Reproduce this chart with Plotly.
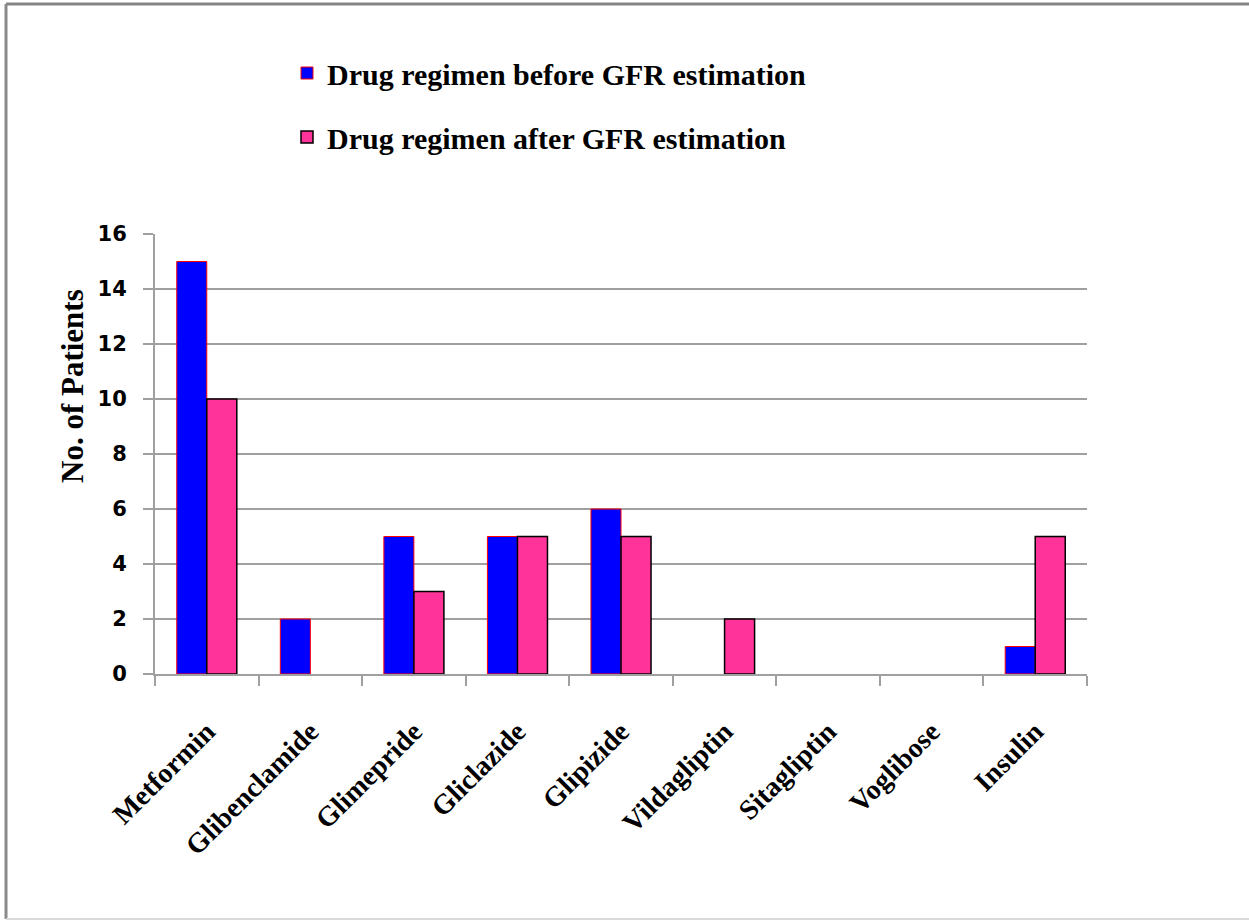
import plotly.graph_objects as go

categories = ["Metformin", "Glibenclamide", "Glimepride", "Gliclazide", "Glipizide",
              "Vildagliptin", "Sitagliptin", "Voglibose", "Insulin"]
before_gfr = [15, 2, 5, 5, 6, 0, 0, 0, 1]
after_gfr = [10, 0, 3, 5, 5, 2, 0, 0, 5]
y_ticks = [0, 2, 4, 6, 8, 10, 12, 14, 16]
y_title = "No. of Patients"

def hide_zero(vals):
    return [v if v != 0 else None for v in vals]

fig = go.Figure()
fig.add_trace(go.Bar(
    x=categories, y=hide_zero(before_gfr), name="Drug regimen before GFR estimation",
    marker=dict(color="#0000FF", line=dict(color="#FF0000", width=1)),
    legend="legend",
))
fig.add_trace(go.Bar(
    x=categories, y=hide_zero(after_gfr), name="Drug regimen after GFR estimation",
    marker=dict(color="#FF3399", line=dict(color="#000000", width=1.5)),
    legend="legend2",
))

L, R, T, B = 155, 162, 234, 246
W, H = 1249, 920
pw, ph = W - L - R, H - T - B

def px(xp):
    return (xp - L) / pw

def py(yp):
    return (H - B - yp) / ph

legend_font = dict(family="Liberation Serif", size=30, color="black", weight="bold")

fig.update_layout(
    width=W, height=H,
    margin=dict(l=L, r=R, t=T, b=B, autoexpand=False),
    paper_bgcolor="white", plot_bgcolor="white",
    barmode="group", bargap=0.42, bargroupgap=0,
    showlegend=True,
    legend=dict(x=px(287), y=py(73), xanchor="left", yanchor="middle",
                font=legend_font, bgcolor="rgba(0,0,0,0)"),
    legend2=dict(x=px(287), y=py(137), xanchor="left", yanchor="middle",
                 font=legend_font, bgcolor="rgba(0,0,0,0)"),
    xaxis=dict(
        type="category", showgrid=False, showline=True, linecolor="#A0A0A0", linewidth=2,
        ticks="outside", tickson="boundaries", ticklen=10, tickcolor="#A0A0A0", tickwidth=2,
        tickangle=-45, tickfont=dict(family="Liberation Serif", size=28, color="black", weight="bold"),
        ticklabelstandoff=28,
    ),
    yaxis=dict(
        range=[0, 16], tickvals=y_ticks, showgrid=True, gridcolor="#A0A0A0", gridwidth=1.5,
        showline=True, linecolor="#A0A0A0", linewidth=2, zeroline=False,
        ticks="outside", ticklen=10, tickcolor="#A0A0A0", tickwidth=2,
        tickfont=dict(family="DejaVu Sans", size=21, color="black", weight="bold"),
        ticklabelstandoff=12,
    ),
)

fig.add_annotation(text="<b>" + y_title + "</b>", xref="paper", yref="paper",
                   x=px(72), y=py(386), xanchor="center", yanchor="middle",
                   textangle=-90, showarrow=False,
                   font=dict(family="Liberation Serif", size=31, color="black"))

# outer chart border (top, left, bottom; right edge lies beyond the image)
fig.add_shape(type="line", xref="paper", yref="paper", x0=px(6), x1=px(1260), y0=py(4), y1=py(4),
              line=dict(color="#858585", width=3))
fig.add_shape(type="line", xref="paper", yref="paper", x0=px(6), x1=px(6), y0=py(4), y1=py(919),
              line=dict(color="#8A8A8A", width=3))
fig.add_shape(type="line", xref="paper", yref="paper", x0=px(6), x1=px(1260), y0=py(919), y1=py(919),
              line=dict(color="#D9D9D9", width=2))

fig.write_html("out.html", config={"displayModeBar": False},
               post_script="document.body.style.margin='0';document.body.style.overflow='hidden';")
